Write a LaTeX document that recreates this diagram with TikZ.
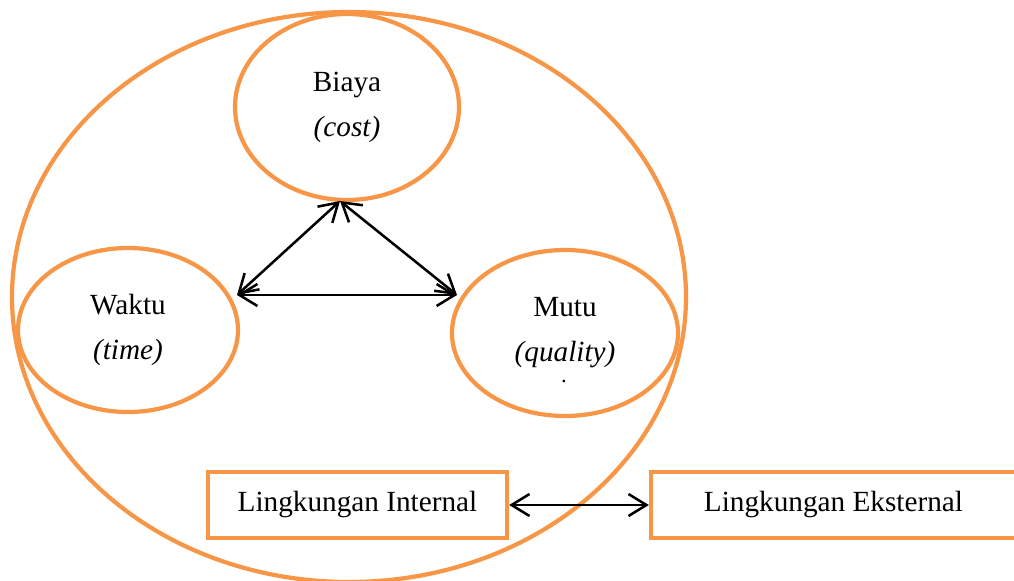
\documentclass[tikz,border=0pt]{standalone}
\usepackage{fontspec}
\setmainfont{Liberation Serif}
\usepackage{tikz}
\usetikzlibrary{arrows.meta,positioning,shapes.geometric}
\definecolor{tcorange}{RGB}{247,150,70}

\begin{document}
\begin{tikzpicture}[x=0.025cm, y=-0.025cm,
    bubble/.style={draw=tcorange, line width=3pt, ellipse, inner sep=0pt, align=center, font=\fontsize{20.8}{32}\selectfont},
    envbox/.style={draw=tcorange, line width=3pt, rectangle, inner sep=0pt, minimum height=66*0.025cm, font=\fontsize{20.8}{25}\selectfont},
    link/.style={{Straight Barb[length=4.5mm, width=5.5mm]}-{Straight Barb[length=4.5mm, width=5.5mm]}, line width=1.8pt, black},
]
    \useasboundingbox (0,0) rectangle (1014,580);
    % outer circle of the triangle
    \node[bubble, minimum width=674*0.025cm, minimum height=570*0.025cm] (frame) at (349,297) {};
    \node[bubble, minimum width=224*0.025cm, minimum height=186*0.025cm] (biaya) at (347,107) {Biaya\\\textit{(cost)}};
    \node[bubble, minimum width=220*0.025cm, minimum height=164*0.025cm] (waktu) at (128,330) {Waktu\\\textit{(time)}};
    \node[bubble, minimum width=226*0.025cm, minimum height=166*0.025cm] (mutu) at (565,333) {Mutu\\\textit{(quality)}};
    \node[font=\fontsize{16}{20}\selectfont, inner sep=0pt] (dot) at (564,381) {.};

    \node[envbox, minimum width=299*0.025cm] (internal) at (357.5,505) {Lingkungan Internal};
    \node[envbox, minimum width=365*0.025cm] (eksternal) at (833.5,505) {Lingkungan Eksternal};

    \coordinate (top) at (340,201);
    \coordinate (left) at (237,295);
    \coordinate (right) at (457,295);

    \draw[link] (top) -- (left);
    \draw[link] (top) -- (right);
    \draw[link] (left) -- (right);
    \draw[link] (internal.east) -- (eksternal.west);
\end{tikzpicture}
\end{document}
